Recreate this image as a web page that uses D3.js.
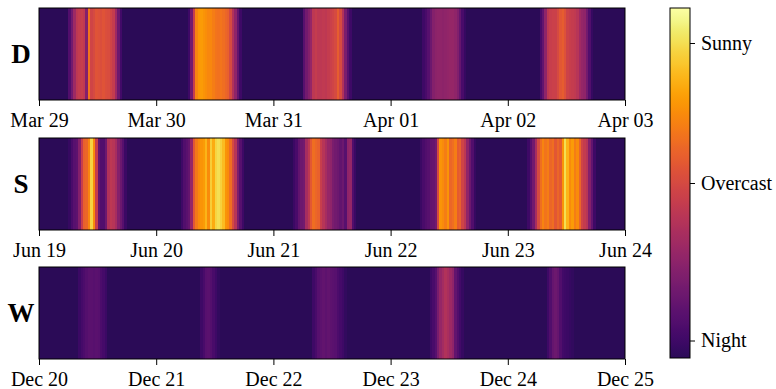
<!DOCTYPE html>
<html><head><meta charset="utf-8">
<script src="https://cdn.jsdelivr.net/npm/d3@7"></script>
<style>body{margin:0;background:#fff}svg{display:block}</style></head>
<body>
<svg id="chart" width="776" height="389"></svg>
<script>
// ---- data (half-hourly sky brightness index, 0 = night, 1 = sunny) ----
const panelLabels = ["D", "S", "W"];
const startDates = ["2021-03-29", "2021-06-19", "2021-12-20"];
const stepMinutes = 30;

const seriesD = [
  // Mar 29
  0,0,0,0,0,0,0,0,0,0,0,0, .1,.2,.32,.42,.44,.45,.43,.25,.64,.48,.5,.54,.53,.52,.54,.52,.51,.48,.44,.32,.18,.06, 0,0,0,0,0,0,0,0,0,0,0,0,0,0,
  // Mar 30
  0,0,0,0,0,0,0,0,0,0,0,0,0, .05,.2,.45,.68,.73,.74,.72,.71,.69,.69,.66,.64,.63,.64,.62,.6,.58,.5,.38,.28,.15,.05, 0,0,0,0,0,0,0,0,0,0,0,0,0,
  // Mar 31
  0,0,0,0,0,0,0,0,0,0,0,0, .12,.2,.25,.3,.42,.44,.42,.42,.43,.42,.44,.46,.48,.5,.57,.5,.38,.22,.12,.05, 0,0,0,0,0,0,0,0,0,0,0,0,0,0,0,0,
  // Apr 01
  0,0,0,0,0,0,0,0,0,0,0,0,0, .05,.08,.12,.18,.25,.27,.28,.28,.27,.28,.29,.3,.3,.28,.24,.16,.08,.03, 0,0,0,0,0,0,0,0,0,0,0,0,0,0,0,0,0,
  // Apr 02
  0,0,0,0,0,0,0,0,0,0,0,0,0, .08,.15,.28,.42,.45,.46,.46,.5,.55,.57,.53,.47,.45,.44,.43,.4,.33,.3,.28,.2,.1,.03, 0,0,0,0,0,0,0,0,0,0,0,0,0
];

const seriesS = [
  // Jun 19
  0,0,0,0,0,0,0,0,0,0,0,0, .03,.08,.12,.14,.25,.45,.58,.6,.68,.88,.7,.45,.15,.1,.1,.18,.38,.42,.4,.35,.25,.18,.12,.04, 0,0,0,0,0,0,0,0,0,0,0,0,
  // Jun 20
  0,0,0,0,0,0,0,0,0,0, .05,.1,.13,.16,.3,.55,.65,.7,.72,.74,.8,.7,.86,.78,.88,.9,.87,.82,.72,.7,.62,.5,.4,.22,.12,.05, 0,0,0,0,0,0,0,0,0,0,0,0,
  // Jun 21
  0,0,0,0,0,0,0,0, .04,.08,.15,.18,.2,.35,.42,.55,.62,.6,.58,.45,.4,.35,.3,.28,.22,.2,.18,.15,.18,.12,.28,.3,.1,.04, 0,0,0,0,0,0,0,0,0,0,0,0,0,0,
  // Jun 22
  0,0,0,0,0,0,0,0,0,0,0,0, .04,.08,.1,.12,.15,.16,.2,.5,.72,.7,.66,.72,.6,.62,.66,.56,.58,.48,.42,.28,.18,.1,.03, 0,0,0,0,0,0,0,0,0,0,0,0,0,
  // Jun 23
  0,0,0,0,0,0,0,0, .05,.12,.2,.35,.5,.62,.68,.64,.66,.6,.62,.55,.6,.56,.72,.9,.8,.7,.74,.66,.7,.6,.48,.44,.4,.25,.15,.05, 0,0,0,0,0,0,0,0,0,0,0,0
];

const seriesW = [
  // Dec 20
  0,0,0,0,0,0,0,0,0,0,0,0,0,0,0,0, .04,.07,.09,.11,.13,.13,.12,.13,.12,.09,.07,.04, 0,0,0,0,0,0,0,0,0,0,0,0,0,0,0,0,0,0,0,0,
  // Dec 21
  0,0,0,0,0,0,0,0,0,0,0,0,0,0,0,0,0,0, .05,.08,.12,.13,.11,.08,.05,.02, 0,0,0,0,0,0,0,0,0,0,0,0,0,0,0,0,0,0,0,0,0,0,
  // Dec 22
  0,0,0,0,0,0,0,0,0,0,0,0,0,0,0,0, .05,.08,.12,.14,.15,.14,.15,.14,.13,.12,.09,.07,.05,.02, 0,0,0,0,0,0,0,0,0,0,0,0,0,0,0,0,0,0,
  // Dec 23
  0,0,0,0,0,0,0,0,0,0,0,0,0,0,0,0, .05,.08,.12,.22,.3,.34,.38,.36,.32,.28,.15,.1,.06,.03, 0,0,0,0,0,0,0,0,0,0,0,0,0,0,0,0,0,0,
  // Dec 24
  0,0,0,0,0,0,0,0,0,0,0,0,0,0,0,0, .05,.1,.16,.18,.16,.1,.06,.05,.04,.03,.02, 0,0,0,0,0,0,0,0,0,0,0,0,0,0,0,0,0,0,0,0,0
];

const colorTickValues = [0.05, 0.5, 0.9];
const colorTickLabels = ["Night", "Overcast", "Sunny"];

// ---- layout ----
const allSeries = [seriesD, seriesS, seriesW];
const plotLeft = 39, plotRight = 625, panelH = 92;
const panelTops = [8, 138, 267];
const cbX = 670, cbW = 20, cbTop = 8, cbBottom = 358;
const FONT = "'Liberation Serif','Times New Roman',serif";

const cmap = v => d3.interpolateInferno(0.15 + 0.85 * Math.max(0, Math.min(1, v)));

const svg = d3.select("#chart");

allSeries.forEach((vals, p) => {
  const t0 = new Date(startDates[p] + "T00:00:00Z");
  const t1 = d3.utcDay.offset(t0, 5);
  const x = d3.scaleUtc().domain([t0, t1]).range([plotLeft, plotRight]);
  const top = panelTops[p];
  const g = svg.append("g");
  const cells = vals.map((v, i) => ({
    a: d3.utcMinute.offset(t0, i * stepMinutes),
    b: d3.utcMinute.offset(t0, (i + 1) * stepMinutes),
    v
  }));
  g.selectAll("rect.cell").data(cells).join("rect")
    .attr("class", "cell")
    .attr("shape-rendering", "crispEdges")
    .attr("x", d => Math.round(x(d.a)))
    .attr("width", d => Math.round(x(d.b)) - Math.round(x(d.a)))
    .attr("y", top).attr("height", panelH)
    .attr("fill", d => cmap(d.v));
  g.append("rect").attr("x", plotLeft).attr("y", top)
    .attr("width", plotRight - plotLeft).attr("height", panelH)
    .attr("fill", "none").attr("stroke", "#000").attr("stroke-width", 1);

  const ax = g.append("g").attr("transform", `translate(0,${top + panelH})`)
    .call(d3.axisBottom(x).ticks(d3.utcDay.every(1)).tickFormat(d3.utcFormat("%b %d"))
      .tickSize(6).tickSizeOuter(0));
  ax.attr("font-family", null);
  ax.select(".domain").remove();
  ax.selectAll(".tick line").attr("stroke", "#000");
  ax.selectAll(".tick text").attr("y", 13).attr("fill", "#000")
    .style("font-family", FONT).style("font-size", "20px");

  svg.append("text").attr("x", 21).attr("y", top + panelH / 2 + 9)
    .attr("text-anchor", "middle")
    .style("font-family", FONT).style("font-size", "27px").style("font-weight", "bold")
    .text(panelLabels[p]);
});

// ---- colorbar ----
const defs = svg.append("defs");
const grad = defs.append("linearGradient").attr("id", "cbgrad")
  .attr("x1", 0).attr("y1", 1).attr("x2", 0).attr("y2", 0);
d3.range(0, 1.0001, 0.02).forEach(s => {
  grad.append("stop").attr("offset", s).attr("stop-color", cmap(s));
});
svg.append("rect").attr("x", cbX).attr("y", cbTop).attr("width", cbW)
  .attr("height", cbBottom - cbTop).attr("fill", "url(#cbgrad)")
  .attr("stroke", "#000").attr("stroke-width", 1);
const cy = d3.scaleLinear().domain([0, 1]).range([cbBottom, cbTop]);
const cax = svg.append("g").attr("transform", `translate(${cbX + cbW},0)`)
  .call(d3.axisRight(cy).tickValues(colorTickValues)
    .tickFormat((d, i) => colorTickLabels[i]).tickSize(5).tickPadding(6));
cax.attr("font-family", null);
cax.select(".domain").remove();
cax.selectAll(".tick line").attr("stroke", "#000");
cax.selectAll(".tick text").attr("fill", "#000")
  .style("font-family", FONT).style("font-size", "20px");
</script>
</body></html>
